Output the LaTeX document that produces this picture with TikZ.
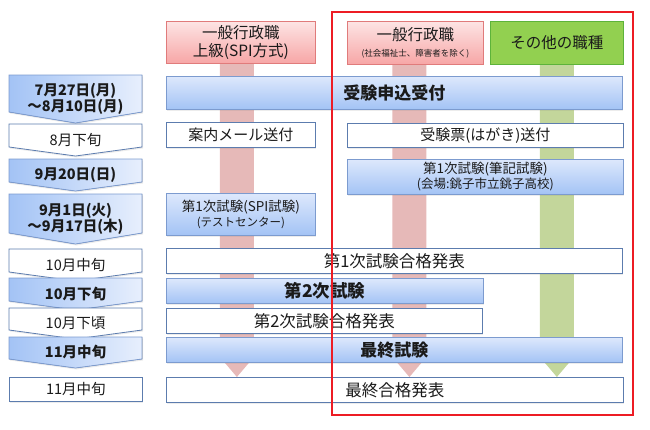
\documentclass[tikz,border=0pt]{standalone}
\usepackage{fontspec}
\setmainfont{Noto Sans CJK JP}
\usetikzlibrary{calc,backgrounds,shadows}

\definecolor{ink}{HTML}{1A1A1A}
\definecolor{bline}{HTML}{7C9BCF}
\definecolor{wline}{HTML}{5C7CAE}
\definecolor{bluetop}{HTML}{DDE8FC}
\definecolor{bluebot}{HTML}{A3C3F5}
\definecolor{redtop}{HTML}{FDE4E4}
\definecolor{redbot}{HTML}{F7A6A6}
\definecolor{redline}{HTML}{E07B7B}
\definecolor{greenfill}{HTML}{92D050}
\definecolor{greenline}{HTML}{5DB33A}
\definecolor{barred}{HTML}{E6B9B8}
\definecolor{bargreen}{HTML}{C3D69B}
\definecolor{frame}{HTML}{ED1C24}

\begin{document}
\begin{tikzpicture}[x=1pt, y=-1pt, every node/.style={inner sep=0pt, text=ink, align=center},
	shad/.style={drop shadow={opacity=.15, shadow xshift=1pt, shadow yshift=-1.5pt}},
	wbox/.style={draw=wline, fill=white, line width=0.8pt, anchor=north west, shad, font=\fontsize{16.5}{19}\selectfont},
	bbox/.style={draw=bline, top color=bluetop, bottom color=bluebot, line width=0.8pt, anchor=north west, shad, font=\fontsize{13.5}{15}\selectfont},
	hred/.style={draw=redline, top color=redtop, bottom color=redbot, line width=0.8pt, anchor=north west, font=\fontsize{15.5}{18}\selectfont},
	hgreen/.style={draw=greenline, fill=greenfill, line width=0.8pt, anchor=north west, font=\fontsize{15.5}{18}\selectfont},
	dblue/.style={draw=bline, left color=bluebot, right color=bluetop!70!white, line width=0.8pt, shad},
	dwhite/.style={draw=wline, fill=white, line width=0.8pt, shad}]
	\useasboundingbox (0,0) rectangle (650,429);
	% column headers
	\node[hred, minimum width=149pt, minimum height=42pt] (h1) at (166,21) {一般行政職\\上級(SPI方式)};
	\node[hred, minimum width=136pt, minimum height=43pt] (h2) at (347,21) {一般行政職\\[-2pt]{\fontsize{8.5}{10}\selectfont(社会福祉士、障害者を除く)}};
	\node[hgreen, minimum width=133pt, minimum height=43pt] (h3) at (490,21) {その他の職種};
	% date chevrons
	\foreach \n/\t/\s/\p/\c/\w/\l in {d1/75/112/123/dblue/\bfseries/{7月27日(月)\\～8月10日(月)}, d2/124/147/156/dwhite/\mdseries/{8月下旬},
		d3/159/182/191/dblue/\bfseries/{9月20日(日)}, d4/194/233/244/dblue/\bfseries/{9月1日(火)\\～9月17日(木)},
		d5/249/272/281/dwhite/\mdseries/{10月中旬}, d6/278/301/310/dblue/\bfseries/{10月下旬},
		d7/308/330/339/dwhite/\mdseries/{10月下頃}, d8/337/359/368/dblue/\bfseries/{11月中旬}} {
		\filldraw[\c] (9,\t) -- (142,\t) -- (142,\s) -- (75.5,\p) -- (9,\s) -- cycle;
		\node[font={\fontsize{14.5}{16.5}\selectfont\w}] (\n) at (75.5,{(\t+\p)/2}) {\l};
	}
	\node[wbox, minimum width=133pt, minimum height=24pt, font=\fontsize{14.5}{16.5}\selectfont] (d9) at (9,377) {11月中旬};
	% schedule boxes
	\node[bbox, minimum width=456pt, minimum height=33pt, font=\fontsize{17}{20}\selectfont\bfseries] (apply) at (166,76) {受験申込受付};
	\node[wbox, minimum width=149pt, minimum height=25pt, font=\fontsize{15}{18}\selectfont] (mail) at (166,122) {案内メール送付};
	\node[wbox, minimum width=276pt, minimum height=24pt, font=\fontsize{15}{17}\selectfont] (ticket) at (347,123) {受験票(はがき)送付};
	\node[bbox, minimum width=276pt, minimum height=35pt] (exam1w) at (347,159) {第1次試験(筆記試験)\\{\fontsize{12.5}{14}\selectfont(会場:銚子市立銚子高校)}};
	\node[bbox, minimum width=149pt, minimum height=42pt] (exam1spi) at (166,193) {第1次試験(SPI試験)\\{\fontsize{11.5}{14}\selectfont(テストセンター)}};
	\node[wbox, minimum width=456pt, minimum height=25pt] (pass1) at (166,248) {第1次試験合格発表};
	\node[bbox, minimum width=317pt, minimum height=25pt, font=\fontsize{17.5}{20}\selectfont\bfseries] (exam2) at (166,278) {第2次試験};
	\node[wbox, minimum width=316pt, minimum height=25pt] (pass2) at (166,308) {第2次試験合格発表};
	\node[bbox, minimum width=456pt, minimum height=25pt, font=\fontsize{17}{20}\selectfont\bfseries] (final) at (166,337) {最終試験};
	\node[wbox, minimum width=457pt, minimum height=25pt] (passf) at (166,377) {最終合格発表};
	% flow bars behind the boxes
	\begin{scope}[on background layer]
		\foreach \h/\dx/\c in {h1/-4/barred, h2/-6/barred, h3/0/bargreen}
			\fill[\c] ($(\h.south)+(\dx-17,0)$) -- ($(\h.south |- passf.north)+(\dx-17,-20)$) -- ($(\h.south |- passf.north)+(\dx,0)$)
				-- ($(\h.south |- passf.north)+(\dx+17,-20)$) -- ($(\h.south)+(\dx+17,0)$) -- cycle;
	\end{scope}
	\draw[frame, line width=2.8pt] (332,12) rectangle (633,415);
\end{tikzpicture}
\end{document}
